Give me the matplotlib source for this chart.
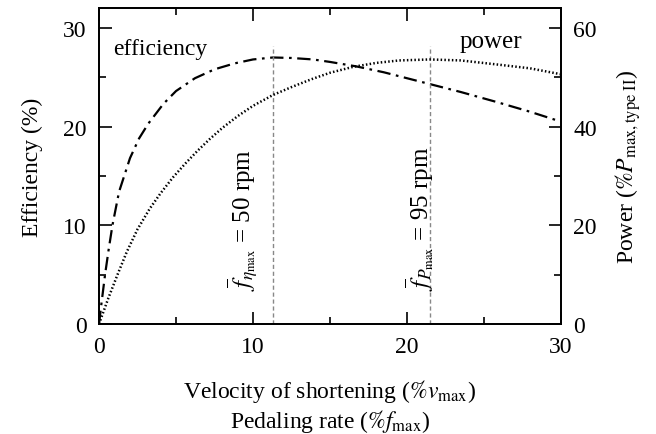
import matplotlib
matplotlib.use("Agg")
import matplotlib.pyplot as plt
from matplotlib.ticker import MultipleLocator

plt.rcParams["font.family"] = ["Liberation Serif", "DejaVu Serif"]
plt.rcParams["mathtext.fontset"] = "stix"

# velocity of shortening (% v_max) and efficiency (%)
eff_x = [0, 0.15, 0.39, 0.62, 0.87, 1.3, 2.01, 2.6, 3.2, 4.18, 5.0, 6.23, 7.5, 8.8, 10.0,
         11.3, 12.5, 13.9, 15.0, 16.7, 18.5, 20.0, 21.5, 23.5, 25.8, 28.0, 30.0]
eff_y = [0, 2.0, 5.0, 7.5, 10.0, 13.4, 16.8, 18.8, 20.3, 22.3, 23.6, 24.9, 25.8, 26.4, 26.8,
         27.0, 26.95, 26.8, 26.55, 26.1, 25.5, 24.9, 24.3, 23.5, 22.5, 21.5, 20.5]

# power curve (% P_max,type II)
pow_x = [0, 0.6, 1.2, 1.8, 2.5, 3.3, 4.0, 4.8, 5.6, 6.4, 7.2, 8.0, 9.0, 10.0, 11.3, 12.5,
         13.8, 15.0, 16.5, 18.0, 19.5, 21.5, 23.5, 25.8, 28.0, 30.0]
pow_y = [0, 5.2, 10.0, 14.6, 19.2, 23.4, 26.5, 29.7, 32.5, 35.1, 37.5, 39.7, 42.1, 44.2, 46.4, 48.0,
         49.6, 50.9, 52.1, 52.9, 53.4, 53.6, 53.4, 52.6, 51.8, 50.6]

f_eta = 11.3
f_pow = 21.5

fig = plt.figure(figsize=(6.56, 4.35), dpi=100)
ax = fig.add_axes([0.151, 0.253, 0.704, 0.726])
ax2 = ax.twinx()

ax.plot(eff_x, eff_y, color="black", lw=1.6, linestyle=(0, (6, 2.5, 1.2, 2.5)))
ax2.plot(pow_x, pow_y, color="black", lw=1.8, linestyle=(0, (0.6, 0.9)))

for xv in [f_eta, f_pow]:
    ax.plot([xv, xv], [0, 28.2], color="#888888", lw=1.0, linestyle=(0, (3, 2)))

ax.set_xlim(0, 30)
ax.set_ylim(0, 32)
ax2.set_ylim(0, 64)

ax.xaxis.set_major_locator(MultipleLocator(10))
ax.xaxis.set_minor_locator(MultipleLocator(5))
ax.yaxis.set_major_locator(MultipleLocator(10))
ax.yaxis.set_minor_locator(MultipleLocator(5))
ax2.yaxis.set_major_locator(MultipleLocator(20))
ax2.yaxis.set_minor_locator(MultipleLocator(10))

ax.tick_params(which="both", direction="in", top=True, right=False, labelsize=17, width=1.2, pad=9)
ax.tick_params(which="major", length=9)
ax.tick_params(which="minor", length=5)
ax2.tick_params(which="both", direction="in", labelsize=17, width=1.2, pad=9)
ax2.tick_params(which="major", length=9)
ax2.tick_params(which="minor", length=5)
for a in (ax, ax2):
    for s in a.spines.values():
        s.set_linewidth(1.3)

ax.set_ylabel("Efficiency (%)", fontsize=17, labelpad=14)
ax2.set_ylabel(r"Power ($\%P_{\rm max,type\ II}$)", fontsize=17, labelpad=12)
ax.set_xlabel("Velocity of shortening ($\\%v_{\\rm max}$)\nPedaling rate ($\\%f_{\\rm max}$)",
              fontsize=17, labelpad=14, linespacing=1.15)

ax.text(0.9, 27.9, "efficiency", fontsize=17, ha="left", va="center")
ax.text(23.4, 28.7, "power", fontsize=18, ha="left", va="center")
ax.text(9.35, 3.4, r"$\overline{f}_{\eta_{\rm max}}$ = 50 rpm", fontsize=18, rotation=90, ha="center", va="bottom")
ax.text(20.8, 3.4, r"$\overline{f}_{P_{\rm max}}$ = 95 rpm", fontsize=18, rotation=90, ha="center", va="bottom")

fig.savefig("out.png", dpi=100)
